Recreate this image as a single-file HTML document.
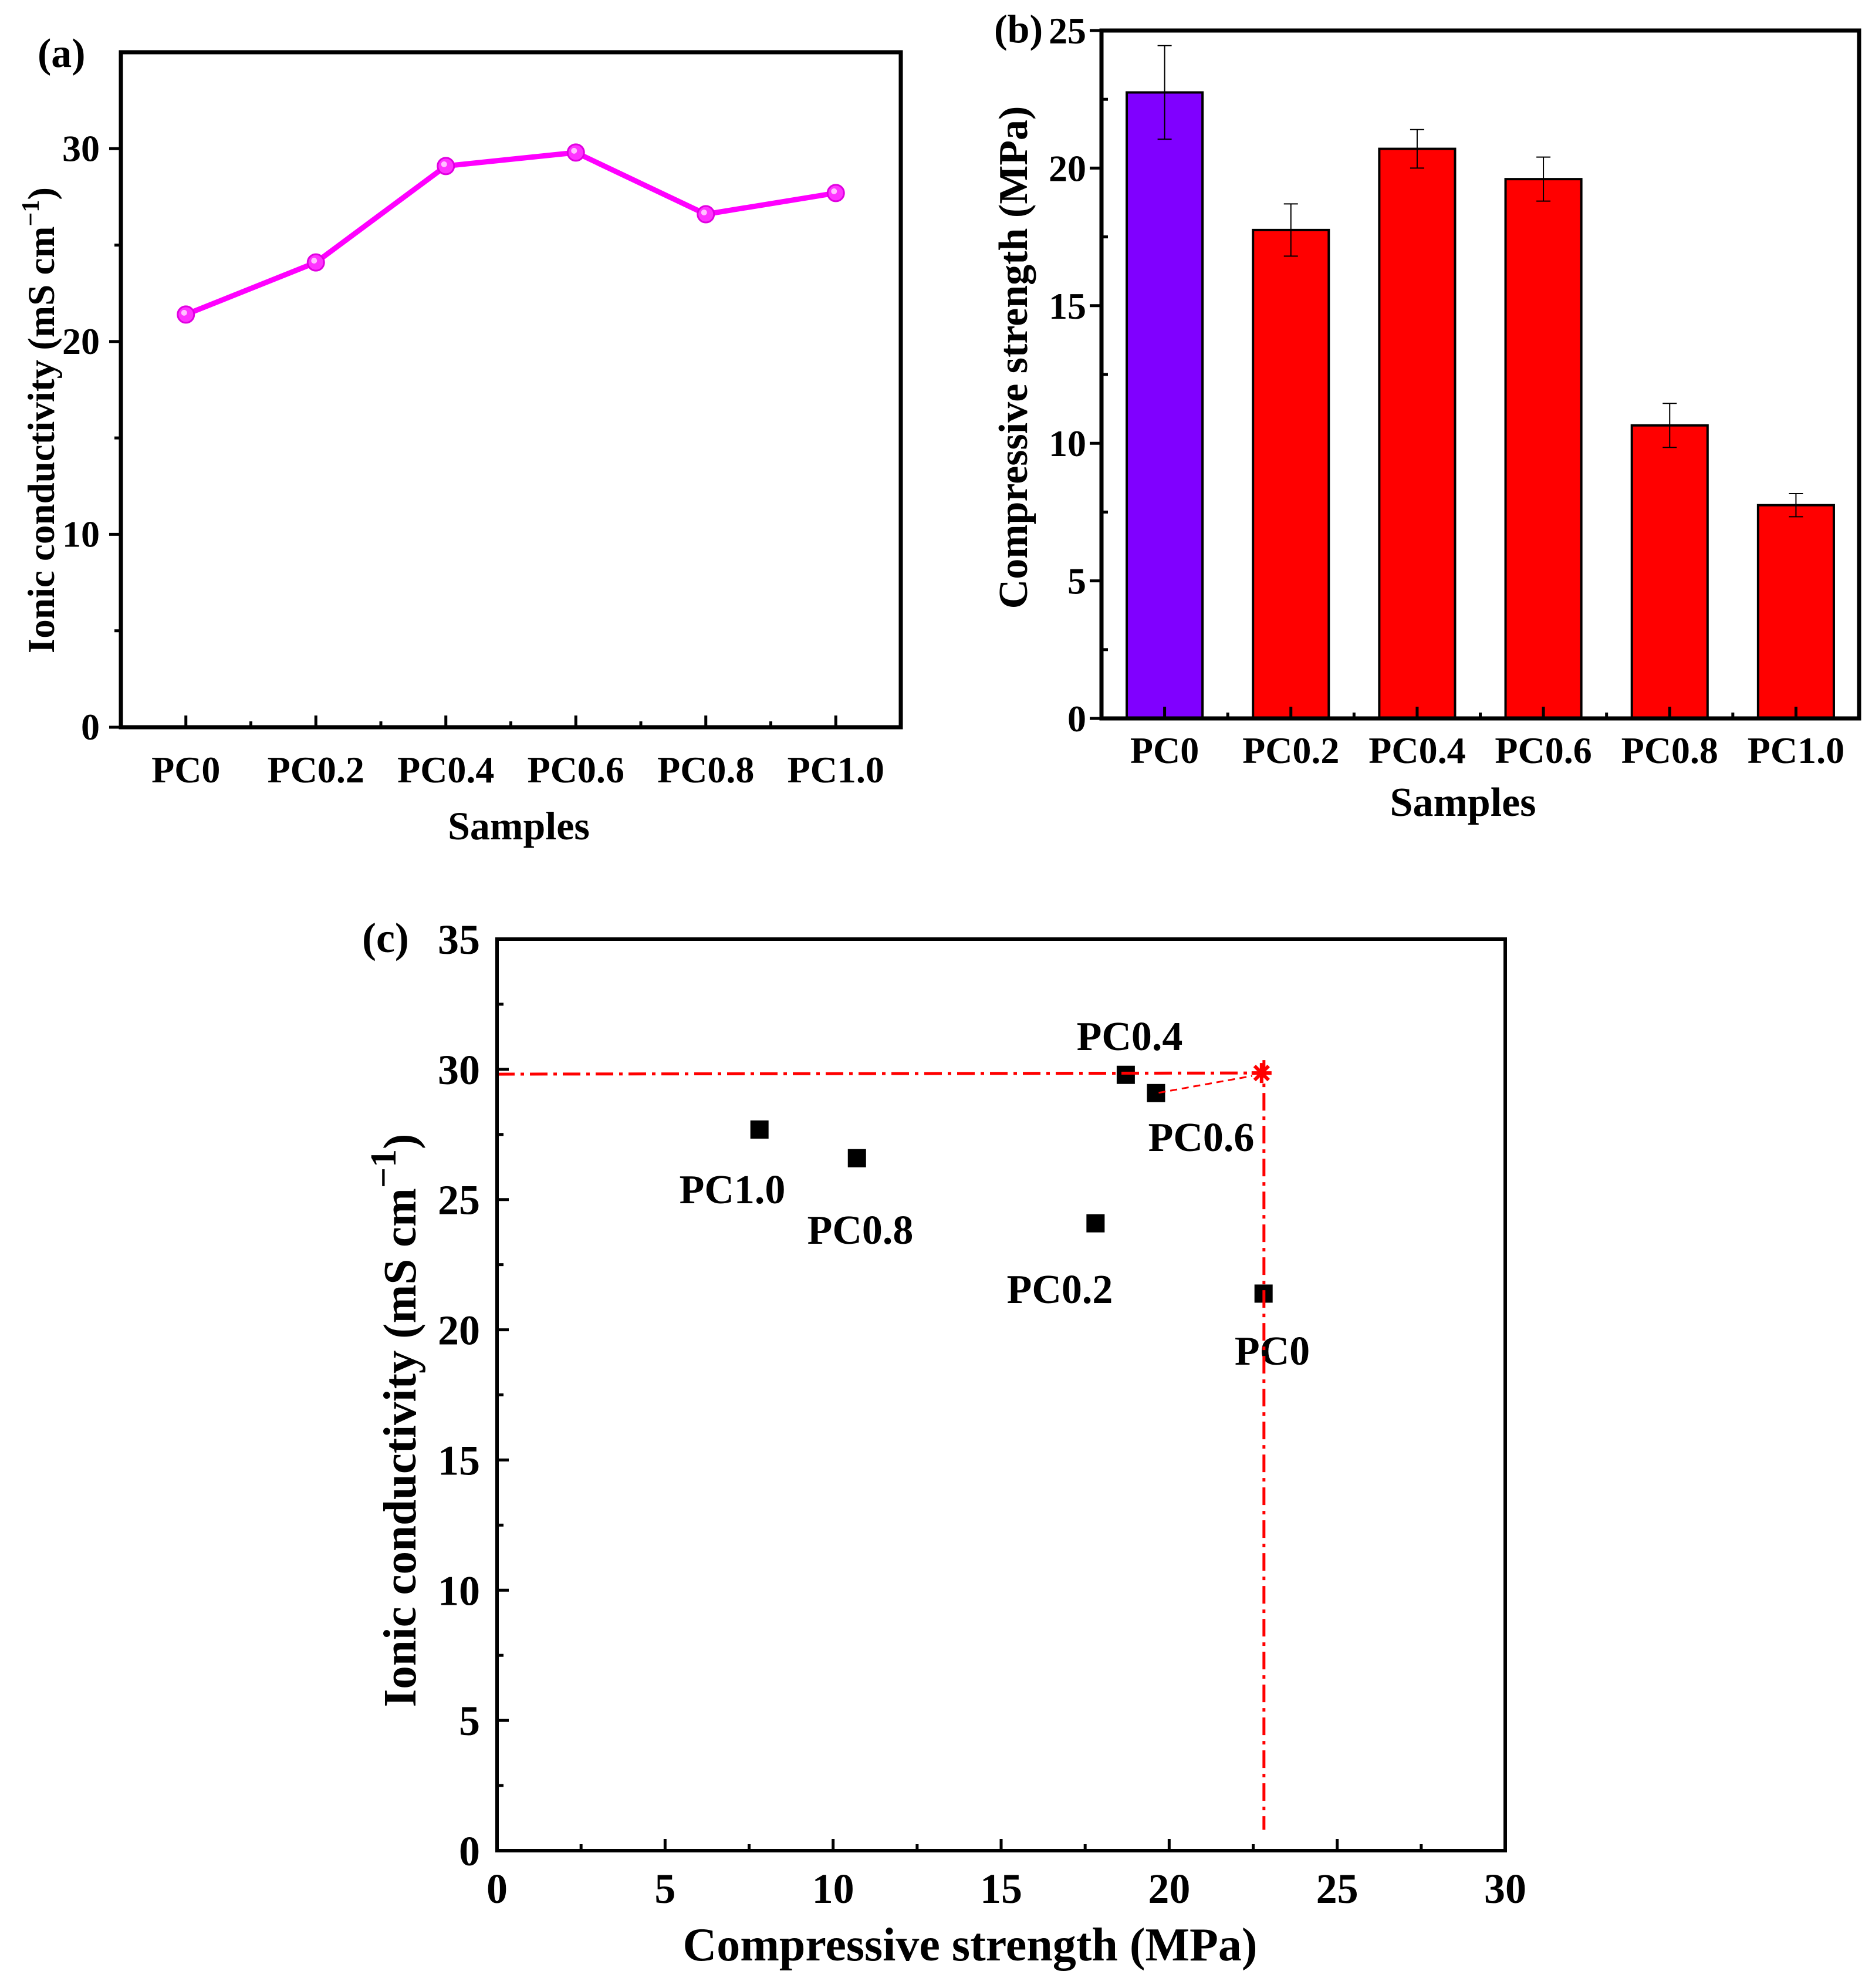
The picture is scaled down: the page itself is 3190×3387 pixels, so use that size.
<!DOCTYPE html>
<html><head><meta charset="utf-8"><style>
html,body{margin:0;padding:0;background:#fff}
svg{display:block}
text{font-family:"Liberation Serif",serif;font-weight:bold;fill:#000}
</style></head><body>
<svg id="fig" width="3190" height="3387" viewBox="0 0 3190 3387" xmlns="http://www.w3.org/2000/svg">
<g id="pa"></g>
<g id="pb"></g>
<g id="pc"></g>
</svg>
<script>
const samples = ["PC0","PC0.2","PC0.4","PC0.6","PC0.8","PC1.0"];
const conductivity = [21.4, 24.1, 29.1, 29.8, 26.6, 27.7];
const strength = [22.75, 17.75, 20.7, 19.6, 10.65, 7.75];
const strengthErr = [1.7, 0.95, 0.7, 0.8, 0.8, 0.42];
const barColors = ["#8000ff","#ff0000","#ff0000","#ff0000","#ff0000","#ff0000"];
const aTicks = [0,10,20,30];
const bTicks = [0,5,10,15,20,25];
const cXTicks = [0,5,10,15,20,25,30];
const cYTicks = [0,5,10,15,20,25,30,35];
const cStrength = [22.8, 17.8, 18.7, 19.6, 10.7, 7.8];
const cCond = [21.4, 24.1, 29.8, 29.1, 26.6, 27.7];
const cLabels = ["PC0","PC0.2","PC0.4","PC0.6","PC0.8","PC1.0"];
const cLabelPos = [[2168,2300],[1806,2195],[1925,1764],[2047,1936],[1466,2094],[1248,2025]];
const refStrength = 22.82, refCond = 29.86;

const NS="http://www.w3.org/2000/svg";
function mk(p,tag,attrs,txt){const e=document.createElementNS(NS,tag);for(const k in attrs)e.setAttribute(k,attrs[k]);if(txt!==undefined)e.textContent=txt;p.appendChild(e);return e;}

/* ---------- Panel A ---------- */
(function(){
const g=document.getElementById('pa');
const L=206,R=1535,T=89,B=1239,ymax=35;
const y=v=>B-(v/ymax)*(B-T);
const bw=(R-L)/samples.length;
const x=i=>L+(i+0.5)*bw;
aTicks.forEach(v=>{
 const t=mk(g,'line',{x1:L-20,x2:L,y1:y(v),y2:y(v),stroke:'#000','stroke-width':5});
 
 const l=mk(g,'text',{x:170,y:y(v)+21,'font-size':64,'text-anchor':'end'},String(v));
 
});
[5,15,25].forEach(v=>{const t=mk(g,'line',{x1:L-11,x2:L,y1:y(v),y2:y(v),stroke:'#000','stroke-width':5});});
samples.forEach((s,i)=>{
 const t=mk(g,'line',{x1:x(i),x2:x(i),y1:B-20,y2:B,stroke:'#000','stroke-width':5});
 
 if(i<samples.length-1){const m=mk(g,'line',{x1:x(i)+bw/2,x2:x(i)+bw/2,y1:B-10,y2:B,stroke:'#000','stroke-width':5});}
 const l=mk(g,'text',{x:x(i),y:1333,'font-size':64,'text-anchor':'middle'},s);
 
});
const pts=conductivity.map((v,i)=>x(i)+','+y(v)).join(' ');
const pl=mk(g,'polyline',{points:pts,fill:'none',stroke:'#ff00ff','stroke-width':9,'stroke-linejoin':'round'});

conductivity.forEach((v,i)=>{
 const c=mk(g,'circle',{cx:x(i),cy:y(v),r:14,fill:'#ff33ff',stroke:'#e000e0','stroke-width':3});
 
 mk(g,'circle',{cx:x(i)-3,cy:y(v)-3,r:5,fill:'#ffc0ff'});
});
const f=mk(g,'rect',{x:L,y:T,width:R-L,height:B-T,fill:'none',stroke:'#000','stroke-width':7});

const xt=mk(g,'text',{x:884,y:1430,'font-size':68,'text-anchor':'middle'},'Samples');

const yt=mk(g,'text',{transform:'translate(92,716) rotate(-90)','font-size':65,'text-anchor':'middle'});

yt.innerHTML='Ionic conductivity (mS cm<tspan dy="-26" font-size="42">−1</tspan><tspan dy="26">)</tspan>';
const lb=mk(g,'text',{x:64,y:114,'font-size':70},'(a)');

})();

/* ---------- Panel B ---------- */
(function(){
const g=document.getElementById('pb');
const L=1877,R=3168,T=52,B=1224,ymax=25;
const y=v=>B-(v/ymax)*(B-T);
const bw=(R-L)/samples.length;
const x=i=>L+(i+0.5)*bw;
strength.forEach((v,i)=>{
 const r=mk(g,'rect',{x:x(i)-bw*0.3,y:y(v),width:bw*0.6,height:B-y(v),fill:barColors[i],stroke:'#000','stroke-width':4});
 
 const e=mk(g,'path',{d:`M${x(i)-12},${y(v+strengthErr[i])}H${x(i)+12}M${x(i)},${y(v+strengthErr[i])}V${y(v-strengthErr[i])}M${x(i)-12},${y(v-strengthErr[i])}H${x(i)+12}`,stroke:'#000','stroke-width':2,fill:'none'});
 
});
bTicks.forEach(v=>{
 const t=mk(g,'line',{x1:L-20,x2:L,y1:y(v),y2:y(v),stroke:'#000','stroke-width':5});
 
 const l=mk(g,'text',{x:1851,y:y(v)+22,'font-size':64,'text-anchor':'end'},String(v));
 
});
[2.5,7.5,12.5,17.5,22.5].forEach(v=>{const t=mk(g,'line',{x1:L,x2:L+11,y1:y(v),y2:y(v),stroke:'#000','stroke-width':5});});
samples.forEach((s,i)=>{
 const t=mk(g,'line',{x1:x(i),x2:x(i),y1:B-20,y2:B,stroke:'#000','stroke-width':5});
 
 if(i<samples.length-1){const m=mk(g,'line',{x1:x(i)+bw/2,x2:x(i)+bw/2,y1:B-10,y2:B,stroke:'#000','stroke-width':5});}
 const l=mk(g,'text',{x:x(i),y:1300,'font-size':64,'text-anchor':'middle'},s);
 
});
const f=mk(g,'rect',{x:L,y:T,width:R-L,height:B-T,fill:'none',stroke:'#000','stroke-width':7});

const xt=mk(g,'text',{x:2493,y:1390,'font-size':70,'text-anchor':'middle'},'Samples');

const yt=mk(g,'text',{transform:'translate(1750,609) rotate(-90)','font-size':70,'text-anchor':'middle'},'Compressive strength (MPa)');

const lb=mk(g,'text',{x:1694,y:72,'font-size':68},'(b)');

})();

/* ---------- Panel C ---------- */
(function(){
const g=document.getElementById('pc');
const L=847,R=2565,T=1600,B=3153,xmax=30,ymax=35;
const x=v=>L+(v/xmax)*(R-L);
const y=v=>B-(v/ymax)*(B-T);
cXTicks.forEach(v=>{
 const t=mk(g,'line',{x1:x(v),x2:x(v),y1:B-20,y2:B,stroke:'#000','stroke-width':5});
 
 const l=mk(g,'text',{x:x(v),y:3242,'font-size':72,'text-anchor':'middle'},String(v));
 
});
[2.5,7.5,12.5,17.5,22.5,27.5].forEach(v=>{const t=mk(g,'line',{x1:x(v),x2:x(v),y1:B-11,y2:B,stroke:'#000','stroke-width':5});});
cYTicks.forEach(v=>{
 const t=mk(g,'line',{x1:L,x2:L+20,y1:y(v),y2:y(v),stroke:'#000','stroke-width':5});
 
 const l=mk(g,'text',{x:818,y:y(v)+25,'font-size':72,'text-anchor':'end'},String(v));
 
});
[2.5,7.5,12.5,17.5,22.5,27.5,32.5].forEach(v=>{const t=mk(g,'line',{x1:L,x2:L+11,y1:y(v),y2:y(v),stroke:'#000','stroke-width':5});});
cStrength.forEach((v,i)=>{
 const s=mk(g,'rect',{x:x(v)-15,y:y(cCond[i])-15,width:31,height:31,fill:'#000'});
 
 const l=mk(g,'text',{x:cLabelPos[i][0],y:cLabelPos[i][1]+25,'font-size':70,'text-anchor':'middle'},cLabels[i]);
 
});
const h=mk(g,'line',{x1:L,y1:y(refCond)+2,x2:x(refStrength)-6,y2:y(refCond),stroke:'#ff0000','stroke-width':5,'stroke-dasharray':'30,10,6,10'});

const v=mk(g,'line',{x1:x(refStrength),y1:y(refCond)-22,x2:x(refStrength),y2:y(0.8),stroke:'#ff0000','stroke-width':5,'stroke-dasharray':'30,10,6,10'});

const d=mk(g,'line',{x1:x(cStrength[3])+5,y1:y(cCond[3]),x2:x(refStrength)-20,y2:y(refCond)+5,stroke:'#ff0000','stroke-width':3,'stroke-dasharray':'12,8'});

const sx=x(refStrength)-4, sy=y(refCond);
const st=mk(g,'path',{d:`M${sx-17},${sy}H${sx+17}M${sx},${sy-17}V${sy+17}M${sx-12},${sy-12}L${sx+12},${sy+12}M${sx-12},${sy+12}L${sx+12},${sy-12}`,stroke:'#ff0000','stroke-width':6});

const f=mk(g,'rect',{x:L,y:T,width:R-L,height:B-T,fill:'none',stroke:'#000','stroke-width':6});

const xt=mk(g,'text',{x:1653,y:3340,'font-size':80,'text-anchor':'middle'},'Compressive strength (MPa)');

const yt=mk(g,'text',{transform:'translate(708,2420) rotate(-90)','font-size':79,'text-anchor':'middle'});

yt.innerHTML='Ionic conductivity (mS cm<tspan dy="-34" font-size="62">−1</tspan><tspan dy="34">)</tspan>';
const lb=mk(g,'text',{x:617,y:1622,'font-size':72},'(c)');

})();
</script>
</body></html>
